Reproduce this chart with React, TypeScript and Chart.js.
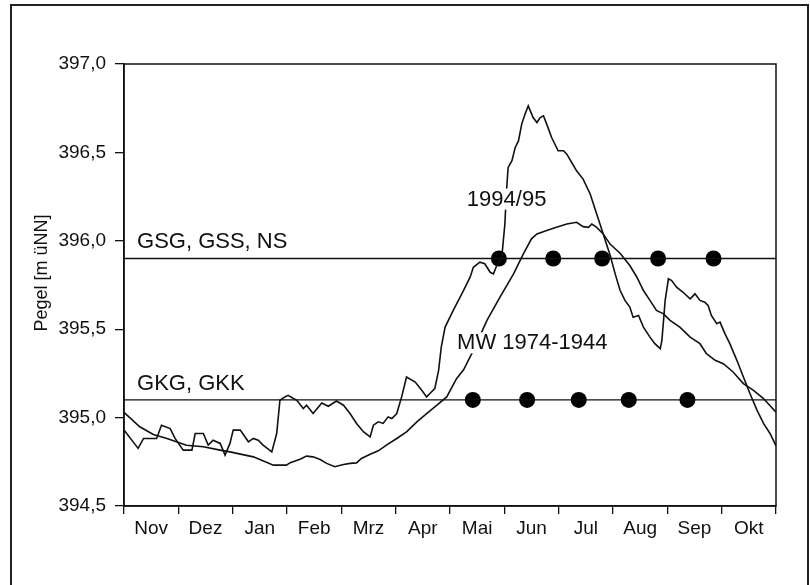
import React, { useEffect, useRef } from "react";
import { Chart, registerables } from "chart.js";

Chart.register(...registerables);

const MONTHS = ["Nov", "Dez", "Jan", "Feb", "Mrz", "Apr", "Mai", "Jun", "Jul", "Aug", "Sep", "Okt"];

const Y_MIN = 394.5;
const Y_MAX = 397.0;
const Y_STEP = 0.5;

// Pegel 1994/95 (x in months from 1 Nov)
const ACTUAL_X = [
  0.0, 0.26, 0.36, 0.6, 0.69, 0.85, 0.94, 1.09, 1.25, 1.31, 1.46, 1.55, 1.64, 1.77, 1.86, 1.95,
  2.01, 2.14, 2.29, 2.38, 2.47, 2.56, 2.72, 2.81, 2.87, 2.96, 3.02, 3.12, 3.18, 3.3, 3.36, 3.48,
  3.64, 3.76, 3.91, 4.04, 4.16, 4.28, 4.41, 4.53, 4.59, 4.68, 4.77, 4.86, 4.93, 5.02, 5.11, 5.2,
  5.36, 5.48, 5.57, 5.63, 5.72, 5.79, 5.84, 5.91, 6.06, 6.25, 6.37, 6.43, 6.55, 6.64, 6.74, 6.8,
  6.86, 6.95, 7.01, 7.04, 7.07, 7.14, 7.2, 7.26, 7.32, 7.38, 7.44, 7.53, 7.6, 7.66, 7.72, 7.78,
  7.87, 7.99, 8.09, 8.15, 8.24, 8.33, 8.45, 8.58, 8.7, 8.82, 8.95, 9.04, 9.13, 9.22, 9.31, 9.37,
  9.47, 9.56, 9.68, 9.77, 9.87, 9.9, 9.96, 10.02, 10.08, 10.17, 10.29, 10.42, 10.51, 10.6, 10.69,
  10.75, 10.81, 10.91, 10.97, 11.06, 11.15, 11.28, 11.4, 11.52, 11.65, 11.77, 11.89, 12.0,
];
const ACTUAL_Y = [
  394.93, 394.826, 394.882, 394.882, 394.957, 394.938, 394.882, 394.816, 394.816, 394.91, 394.91,
  394.844, 394.872, 394.854, 394.788, 394.854, 394.929, 394.929, 394.863, 394.882, 394.872, 394.844,
  394.806, 394.91, 395.098, 395.117, 395.126, 395.108, 395.098, 395.051, 395.07, 395.023, 395.083,
  395.064, 395.094, 395.07, 395.023, 394.967, 394.919, 394.891, 394.957, 394.976, 394.967, 395.004,
  394.995, 395.023, 395.117, 395.23, 395.201, 395.155, 395.117, 395.136, 395.164, 395.267, 395.4,
  395.512, 395.606, 395.719, 395.794, 395.85, 395.879, 395.87, 395.822, 395.813, 395.86, 395.898,
  396.095, 396.283, 396.415, 396.453, 396.528, 396.565, 396.66, 396.716, 396.763, 396.697, 396.669,
  396.697, 396.707, 396.66, 396.584, 396.509, 396.509, 396.49, 396.443, 396.396, 396.349, 396.265,
  396.152, 396.039, 395.915, 395.813, 395.72, 395.663, 395.625, 395.568, 395.578, 395.512, 395.455,
  395.418, 395.39, 395.437, 395.663, 395.785, 395.775, 395.738, 395.709, 395.672, 395.7, 395.663,
  395.653, 395.634, 395.578, 395.531, 395.54, 395.475, 395.418, 395.324, 395.23, 395.136, 395.042,
  394.967, 394.91, 394.84,
];

// Mittelwert MW 1974-1944
const MEAN_X = [
  0.0, 0.29, 0.54, 0.79, 1.15, 1.46, 1.77, 1.95, 2.38, 2.75, 2.99, 3.06, 3.24, 3.36, 3.48, 3.61,
  3.73, 3.88, 4.04, 4.16, 4.28, 4.37, 4.53, 4.68, 4.83, 5.02, 5.2, 5.39, 5.57, 5.76, 5.94, 6.12,
  6.25, 6.43, 6.68, 6.92, 7.17, 7.35, 7.5, 7.6, 7.78, 7.96, 8.15, 8.33, 8.45, 8.55, 8.61, 8.7,
  8.82, 8.95, 9.13, 9.31, 9.44, 9.56, 9.68, 9.8, 9.93, 10.05, 10.23, 10.42, 10.6, 10.72, 10.88,
  11.03, 11.21, 11.4, 11.58, 11.77, 12.0,
];
const MEAN_Y = [
  395.03, 394.948, 394.905, 394.882, 394.844, 394.835, 394.816, 394.806, 394.778, 394.731, 394.731,
  394.745, 394.765, 394.782, 394.778, 394.763, 394.741, 394.722, 394.735, 394.741, 394.744, 394.769,
  394.793, 394.812, 394.844, 394.882, 394.919, 394.976, 395.023, 395.07, 395.117, 395.22, 395.27,
  395.38, 395.55, 395.681, 395.813, 395.926, 396.011, 396.039, 396.058, 396.076, 396.095, 396.105,
  396.08, 396.076, 396.095, 396.076, 396.039, 395.98, 395.93, 395.86, 395.794, 395.719, 395.663,
  395.606, 395.587, 395.55, 395.512, 395.455, 395.418, 395.362, 395.324, 395.305, 395.258, 395.192,
  395.155, 395.108, 395.03,
];

// Schwellen
const LEVEL_HIGH = 395.9; // GSG, GSS, NS
const LEVEL_LOW = 395.1; // GKG, GKK

const DOTS_HIGH_X = [6.9, 7.9, 8.8, 9.83, 10.85];
const DOTS_LOW_X = [6.42, 7.42, 8.37, 9.29, 10.37];

const LABEL_HIGH = "GSG, GSS, NS";
const LABEL_LOW = "GKG, GKK";
const LABEL_ACTUAL = "1994/95";
const LABEL_MEAN = "MW 1974-1944";
const Y_TITLE = "Pegel [m üNN]";

const FONT = "'Liberation Sans', Arial, Helvetica, sans-serif";
const INK = "#111111";

const zip = (xs: number[], ys: number[]) => xs.map((x, i) => ({ x, y: ys[i] }));

const decoPlugin = {
  id: "deco",
  beforeDraw(chart: any) {
    const ctx = chart.ctx;
    ctx.save();
    ctx.fillStyle = "#ffffff";
    ctx.fillRect(0, 0, chart.width, chart.height);
    ctx.restore();
  },
  afterDatasetsDraw(chart: any) {
    const ctx = chart.ctx;
    const xs = chart.scales.x;
    const ys = chart.scales.y;
    const a = chart.chartArea;
    ctx.save();
    ctx.font = `22px ${FONT}`;
    ctx.fillStyle = INK;
    ctx.textBaseline = "alphabetic";
    ctx.textAlign = "left";
    const put = (txt: string, mx: number, vy: number, bg: boolean, dy = 0) => {
      const px = xs.getPixelForValue(mx);
      const py = ys.getPixelForValue(vy) + dy;
      if (bg) {
        const w = ctx.measureText(txt).width;
        ctx.fillStyle = "#ffffff";
        ctx.fillRect(px - 2, py - 17, w + 4, 21);
        ctx.fillStyle = INK;
      }
      ctx.fillText(txt, px, py);
    };
    put(LABEL_HIGH, 0.24, LEVEL_HIGH, false, -10);
    put(LABEL_LOW, 0.24, LEVEL_LOW, false, -10);
    put(LABEL_ACTUAL, 6.31, 396.199, true);
    put(LABEL_MEAN, 6.13, 395.386, true);
    ctx.restore();

    // plot box
    ctx.save();
    ctx.strokeStyle = INK;
    ctx.lineWidth = 1.5;
    ctx.strokeRect(a.left, a.top, a.right - a.left, a.bottom - a.top);
    ctx.restore();
  },
  afterDraw(chart: any) {
    const ctx = chart.ctx;
    const a = chart.chartArea;
    ctx.save();
    // y-axis title
    ctx.translate(42, (a.top + a.bottom) / 2 - 12);
    ctx.rotate(-Math.PI / 2);
    ctx.font = `18px ${FONT}`;
    ctx.fillStyle = INK;
    ctx.textAlign = "center";
    ctx.textBaseline = "middle";
    ctx.fillText(Y_TITLE, 0, 0);
    ctx.restore();
    // outer frame
    ctx.save();
    ctx.strokeStyle = "#222";
    ctx.lineWidth = 2;
    ctx.beginPath();
    ctx.moveTo(11, 600);
    ctx.lineTo(11, 5);
    ctx.lineTo(808, 5);
    ctx.lineTo(808, 600);
    ctx.stroke();
    ctx.restore();
  },
};

export default function App() {
  const ref = useRef<HTMLCanvasElement | null>(null);

  useEffect(() => {
    if (!ref.current) return;
    Chart.defaults.font.family = FONT;
    Chart.defaults.color = INK;
    const lineStyle = { borderColor: INK, pointRadius: 0, fill: false, tension: 0 };
    const chart = new Chart(ref.current, {
      type: "line",
      data: {
        datasets: [
          { label: LABEL_HIGH, data: [{ x: 0, y: LEVEL_HIGH }, { x: 12, y: LEVEL_HIGH }], borderWidth: 1.3, ...lineStyle },
          { label: LABEL_LOW, data: [{ x: 0, y: LEVEL_LOW }, { x: 12, y: LEVEL_LOW }], borderWidth: 1.3, ...lineStyle },
          { label: LABEL_ACTUAL, data: zip(ACTUAL_X, ACTUAL_Y), borderWidth: 1.6, ...lineStyle },
          { label: LABEL_MEAN, data: zip(MEAN_X, MEAN_Y), borderWidth: 1.6, ...lineStyle },
          {
            label: "dots high",
            data: DOTS_HIGH_X.map((x) => ({ x, y: LEVEL_HIGH })),
            showLine: false,
            pointRadius: 8,
            pointBackgroundColor: "#000",
            pointBorderColor: "#000",
            pointBorderWidth: 0,
          },
          {
            label: "dots low",
            data: DOTS_LOW_X.map((x) => ({ x, y: LEVEL_LOW })),
            showLine: false,
            pointRadius: 8,
            pointBackgroundColor: "#000",
            pointBorderColor: "#000",
            pointBorderWidth: 0,
          },
        ] as any,
      },
      options: {
        animation: false,
        responsive: false,
        devicePixelRatio: 1,
        layout: { padding: { top: 64, right: 34, left: 0, bottom: 0 } },
        plugins: { legend: { display: false }, tooltip: { enabled: false } },
        scales: {
          x: { type: "linear", min: 0, max: 12, display: false },
          xc: {
            type: "category",
            position: "bottom",
            labels: MONTHS,
            offset: true,
            grid: { offset: true, drawOnChartArea: false, drawTicks: true, tickLength: 8, color: INK, lineWidth: 1.3 },
            border: { display: true, color: INK, width: 1.5 },
            ticks: { font: { size: 19 }, color: INK, padding: 3, maxRotation: 0, autoSkip: false },
            afterFit: (s: any) => {
              s.height = 79;
            },
          },
          y: {
            type: "linear",
            min: Y_MIN,
            max: Y_MAX,
            ticks: {
              stepSize: Y_STEP,
              font: { size: 19 },
              color: INK,
              padding: 9,
              callback: (v: any) => Number(v).toFixed(1).replace(".", ","),
            },
            grid: { drawOnChartArea: false, drawTicks: true, tickLength: 9, color: INK, lineWidth: 1.3 },
            border: { display: true, color: INK, width: 1.5 },
            afterFit: (s: any) => {
              s.width = 124;
            },
          },
        },
      } as any,
      plugins: [decoPlugin],
    });
    return () => chart.destroy();
  }, []);

  return (
    <div style={{ position: "fixed", left: 0, top: 0, width: 810, height: 585, background: "#fff" }}>
      <canvas ref={ref} width={810} height={585} style={{ display: "block" }} />
    </div>
  );
}
